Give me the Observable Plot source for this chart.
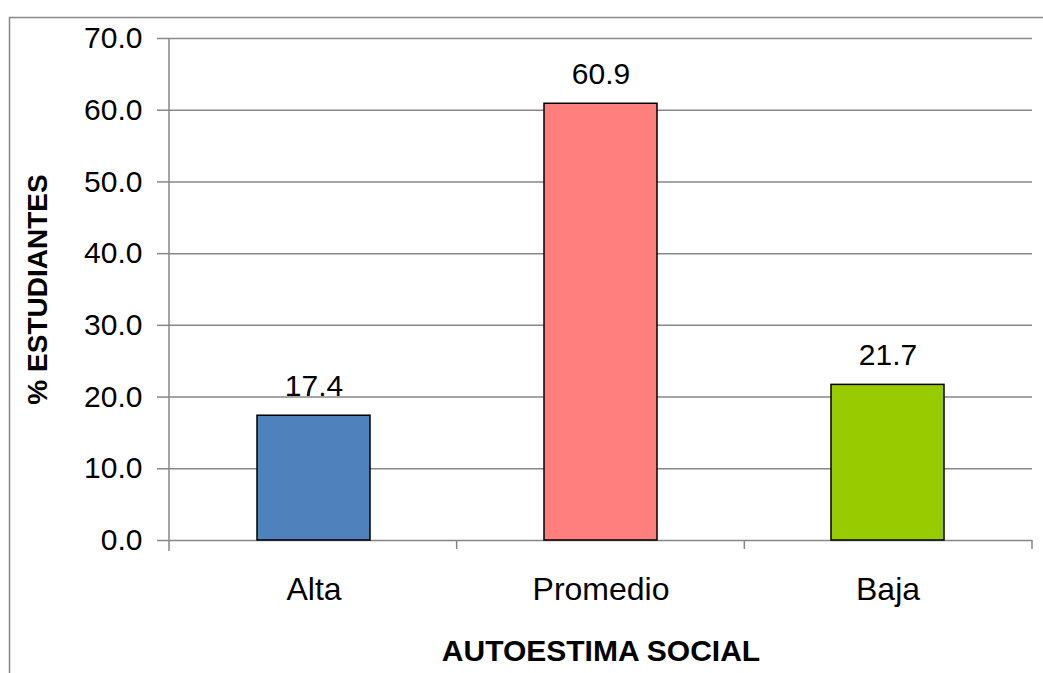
<!DOCTYPE html>
<html><head><meta charset="utf-8">
<script src="https://cdn.jsdelivr.net/npm/d3@7"></script>
<script src="https://cdn.jsdelivr.net/npm/@observablehq/plot@0.6"></script>
<style>body{margin:0;background:#fff}</style>
</head><body><div id="chart"></div>
<script>
const categories = ["Alta", "Promedio", "Baja"];
const values = [17.4, 60.9, 21.7];
const barColors = ["#4F81BD", "#FF7F7F", "#99CC00"];
const yTicks = [0, 10, 20, 30, 40, 50, 60, 70];
const xTitle = "AUTOESTIMA SOCIAL";
const yTitle = "% ESTUDIANTES";

const data = categories.map((c, i) => ({category: c, value: values[i], color: barColors[i]}));
const GRAY = "#878787";
const FONT = "'Liberation Sans', Arial, sans-serif";

function decorations(index, scales, vals, dims) {
  const g = d3.create("svg:g");
  const left = dims.marginLeft, right = dims.width - dims.marginRight;
  const top = dims.marginTop, bottom = dims.height - dims.marginBottom;
  const n = categories.length;
  const step = (right - left) / n;
  // outer chart border (left and top visible)
  g.append("path").attr("d", `M9.5,${dims.height} V17.5 H${dims.width}`)
    .attr("fill", "none").attr("stroke", GRAY).attr("stroke-width", 1.5);
  // y axis line
  g.append("line").attr("x1", left).attr("x2", left).attr("y1", top).attr("y2", bottom + 11)
    .attr("stroke", GRAY).attr("stroke-width", 1.5);
  // category boundary ticks
  for (let i = 1; i <= n; i++) {
    const x = left + i * step;
    g.append("line").attr("x1", x).attr("x2", x).attr("y1", bottom).attr("y2", bottom + 9)
      .attr("stroke", GRAY).attr("stroke-width", 1.5);
  }
  return g.node();
}

const chart = Plot.plot({
  width: 1043,
  height: 673,
  marginLeft: 169,
  marginRight: 11,
  marginTop: 38,
  marginBottom: 133,
  style: {fontFamily: FONT, color: "black", background: "white", overflow: "visible"},
  x: {domain: categories, paddingInner: 0.607, paddingOuter: 0.3035, label: null},
  y: {domain: [0, 70], label: null},
  color: {type: "identity"},
  marks: [
    Plot.ruleY(yTicks, {stroke: GRAY, strokeWidth: 1.5}),
    Plot.axisY(yTicks, {tickSize: 12, tickPadding: 15, fontSize: 30, tickFormat: d => d.toFixed(1), stroke: GRAY, strokeWidth: 1.5, fill: "black", label: null}),
    Plot.axisX({tickSize: 0, tickPadding: 37, fontSize: 32, fill: "black", label: null}),
    Plot.barY(data, {x: "category", y: "value", fill: "color", stroke: "black", strokeWidth: 1.5}),
    Plot.text(data, {x: "category", y: "value", text: d => d.value.toFixed(1), lineAnchor: "bottom", dy: -20, fontSize: 30, fill: "black"}),
    Plot.text([xTitle], {text: d => d, frameAnchor: "bottom", textAnchor: "middle", lineAnchor: "bottom", dx: 0, dy: 120, fontSize: 30, fontWeight: "bold", letterSpacing: -1, fill: "black"}),
    Plot.text([yTitle], {text: d => d, frameAnchor: "left", textAnchor: "middle", lineAnchor: "middle", rotate: -90, dx: -131, fontSize: 28, fontWeight: "bold", fill: "black"}),
    decorations
  ]
});
document.getElementById("chart").appendChild(chart);
</script>
</body></html>
